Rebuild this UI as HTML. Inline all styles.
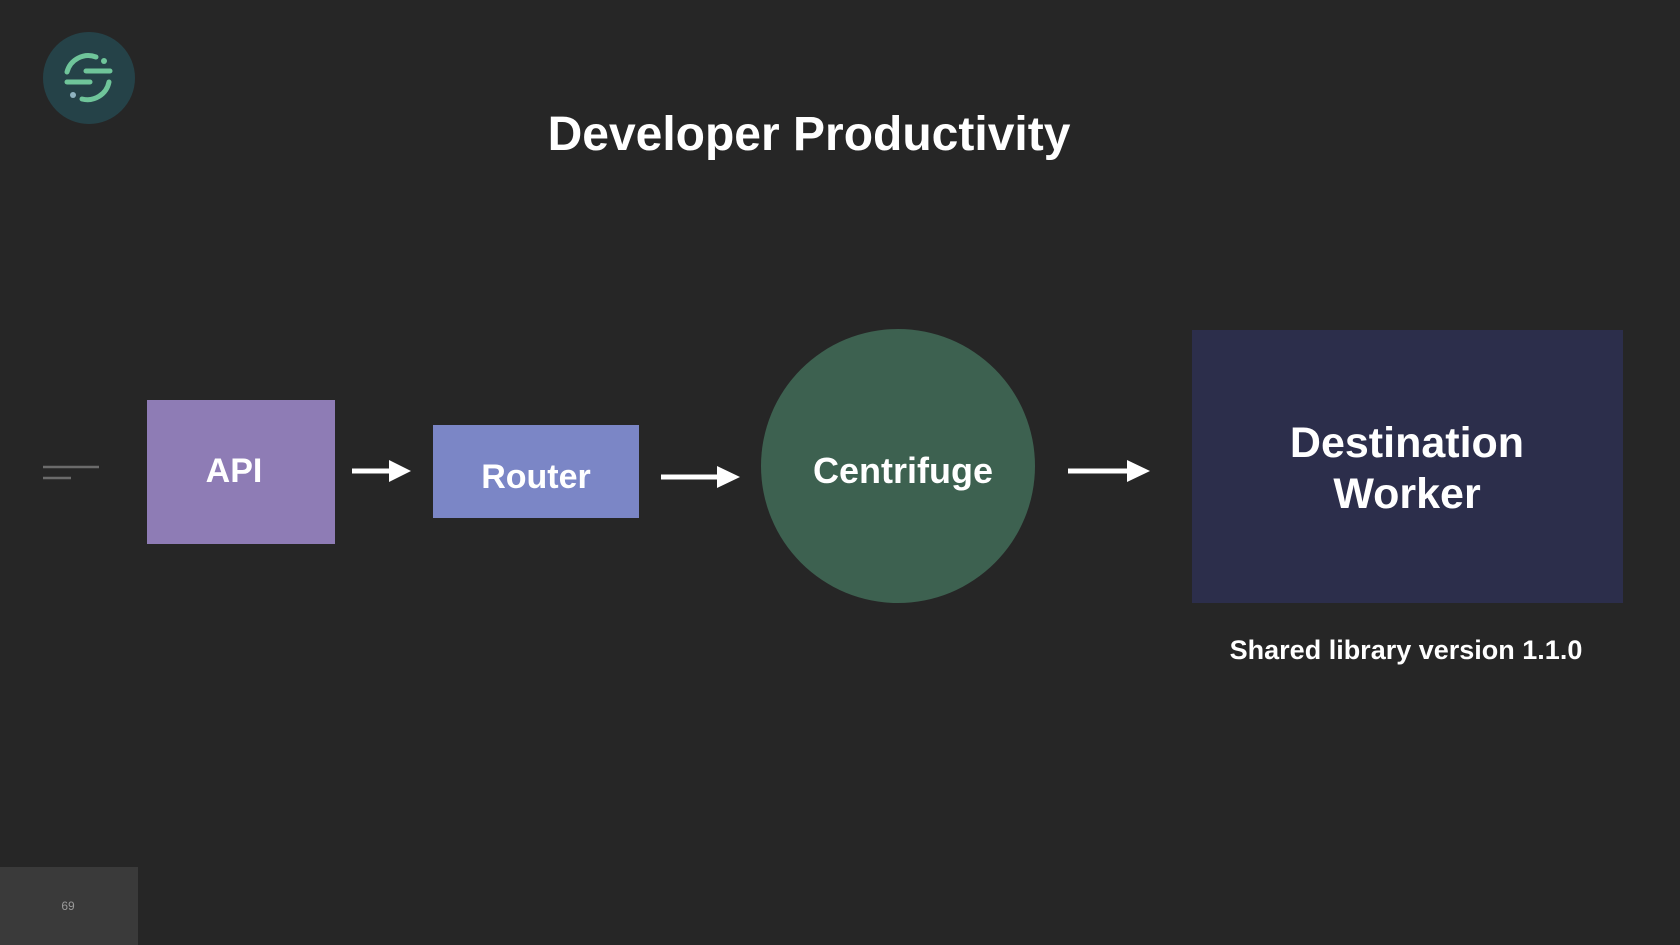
<!DOCTYPE html>
<html><head><meta charset="utf-8"><style>
html,body{margin:0;padding:0;background:#262626;}
svg{display:block}
text{font-family:"Liberation Sans",sans-serif;font-weight:bold;fill:#fff;text-anchor:middle}
</style></head><body>
<svg width="1680" height="945" viewBox="0 0 1680 945" xmlns="http://www.w3.org/2000/svg">
<rect width="1680" height="945" fill="#262626"/>
<!-- logo -->
<circle cx="89" cy="78" r="46" fill="#254248"/>
<g stroke="#6fc59a" stroke-width="5" stroke-linecap="round" fill="none">
<path d="M96 57 A22 22 0 0 0 67 72"/>
<path d="M82 99 A22 22 0 0 0 109 82"/>
<line x1="86" y1="71" x2="110" y2="71"/>
<line x1="67" y1="82" x2="90" y2="82"/>
</g>
<circle cx="104" cy="61" r="3" fill="#6fc59a"/>
<circle cx="73" cy="95" r="3" fill="#8fb3c0"/>
<text x="809" y="150" font-size="48">Developer Productivity</text>
<!-- side lines -->
<line x1="43" y1="467" x2="99" y2="467" stroke="#6b6b6b" stroke-width="2.5"/>
<line x1="43" y1="478" x2="71" y2="478" stroke="#6b6b6b" stroke-width="2.5"/>
<!-- API -->
<rect x="147" y="400" width="188" height="144" fill="#8e7cb5"/>
<text x="234" y="482" font-size="34">API</text>
<!-- arrow1 -->
<line x1="352" y1="471" x2="392" y2="471" stroke="#fff" stroke-width="5"/>
<polygon points="389,460 411,471 389,482" fill="#fff"/>
<!-- Router -->
<rect x="433" y="425" width="206" height="93" fill="#7b86c6"/>
<text x="536" y="488" font-size="34">Router</text>
<!-- arrow2 -->
<line x1="661" y1="477" x2="720" y2="477" stroke="#fff" stroke-width="5"/>
<polygon points="717,466 740,477 717,488" fill="#fff"/>
<!-- circle -->
<circle cx="898" cy="466" r="137" fill="#3d6150"/>
<text x="903" y="483" font-size="36">Centrifuge</text>
<!-- arrow3 -->
<line x1="1068" y1="471" x2="1130" y2="471" stroke="#fff" stroke-width="5"/>
<polygon points="1127,460 1150,471 1127,482" fill="#fff"/>
<!-- destination -->
<rect x="1192" y="330" width="431" height="273" fill="#2c2e4b"/>
<text x="1407" y="457" font-size="43">Destination</text>
<text x="1407" y="508" font-size="43">Worker</text>
<text x="1406" y="659" font-size="27">Shared library version 1.1.0</text>
<!-- page number -->
<rect x="0" y="867" width="138" height="78" fill="#3a3a3a"/>
<text x="68" y="910" font-size="12" font-weight="normal" fill="#999" style="font-weight:normal;fill:#9a9a9a">69</text>
</svg>
</body></html>
